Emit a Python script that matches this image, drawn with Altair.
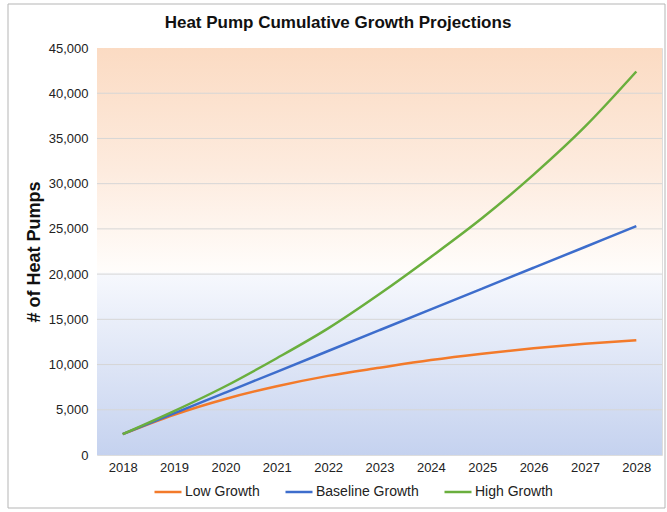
import altair as alt
import pandas as pd

years = list(range(2018, 2029))
low = [2300, 4450, 6200, 7600, 8750, 9650, 10500, 11200, 11800, 12300, 12700]
baseline = [2300, 4600, 6900, 9200, 11500, 13800, 16100, 18400, 20700, 23000, 25300]
high = [2300, 4850, 7600, 10700, 14000, 17800, 21900, 26200, 31000, 36300, 42400]
series = ["Low Growth", "Baseline Growth", "High Growth"]
colors = ["#F37A2A", "#3D6DCC", "#6AAF3D"]
y_ticks = list(range(0, 45001, 5000))
grid_vals = list(range(5000, 40001, 5000))
title_text = "Heat Pump Cumulative Growth Projections"

rows = []
for name, vals in zip(series, [low, baseline, high]):
    for yr, v in zip(years, vals):
        rows.append({"Year": yr, "Pumps": v, "Series": name})
df = pd.DataFrame(rows)

FONT = "Liberation Sans"
x_scale = alt.Scale(domain=[2017.5, 2028.5], nice=False, zero=False)
y_scale = alt.Scale(domain=[0, 45000], nice=False)
x_axis = alt.Axis(
    values=years, format="d", title=None, grid=False, ticks=False,
    domain=False, labelFontSize=13, labelPadding=6, labelColor="#222",
    labelFlush=False, labelFont=FONT,
)
y_axis = alt.Axis(
    values=y_ticks, format=",.0f", grid=False, ticks=False, domain=False,
    title="# of Heat Pumps", titleFontSize=18, titleFontWeight="bold",
    titleColor="#111", titlePadding=5, labelFontSize=13, labelPadding=9,
    labelColor="#222", labelFlush=False, labelFont=FONT, titleFont=FONT,
)

bg_df = pd.DataFrame({"x0": [2017.5], "x1": [2028.5], "y0": [0], "y1": [45000]})
bg = alt.Chart(bg_df).mark_rect(
    color=alt.LinearGradient(
        gradient="linear",
        stops=[
            alt.GradientStop(offset=0, color="#fbdbc3"),
            alt.GradientStop(offset=0.3, color="#fdebde"),
            alt.GradientStop(offset=0.55, color="#fffdfb"),
            alt.GradientStop(offset=0.556, color="#f6f8fd"),
            alt.GradientStop(offset=1, color="#c5d2ef"),
        ],
        x1=0, x2=0, y1=0, y2=1,
    )
).encode(
    x=alt.X("x0:Q", scale=x_scale, axis=x_axis),
    x2="x1:Q",
    y=alt.Y("y1:Q", scale=y_scale, axis=y_axis),
    y2="y0:Q",
)

grid = alt.Chart(pd.DataFrame({"v": grid_vals})).mark_rule(
    color="#d6d6d6", strokeWidth=1
).encode(y=alt.Y("v:Q", scale=y_scale, axis=y_axis))

lines = alt.Chart(df).mark_line(strokeWidth=2.5, interpolate="monotone").encode(
    x=alt.X("Year:Q", scale=x_scale, axis=x_axis),
    y=alt.Y("Pumps:Q", scale=y_scale, axis=y_axis),
    color=alt.Color(
        "Series:N",
        scale=alt.Scale(domain=series, range=colors),
        sort=series,
        legend=alt.Legend(
            title=None, orient="none", direction="horizontal",
            legendX=56, legendY=429, symbolType="stroke", symbolSize=729,
            symbolStrokeWidth=2.5, labelFontSize=14, labelOffset=2,
            columnPadding=20, labelColor="#222", labelFont=FONT,
        ),
    ),
)

title = alt.Chart(alt.Data(values=[{"t": title_text}])).mark_text(
    fontSize=17, fontWeight="bold", font=FONT, color="#111", clip=False,
    align="center", baseline="middle",
).encode(text="t:N", x=alt.value(241), y=alt.value(-25))

frame = alt.Chart(alt.Data(values=[{}])).mark_rect(
    fillOpacity=0, stroke="#b5b5b5", strokeWidth=1, clip=False
).encode(
    x=alt.value(-89), x2=alt.value(568), y=alt.value(-44), y2=alt.value(460)
)

chart = alt.layer(bg, grid, lines, title, frame).properties(
    width=565,
    height=407,
    autosize=alt.AutoSizeParams(type="none"),
    padding={"left": 97, "top": 48, "right": 5, "bottom": 57},
).configure_view(stroke=None).configure(background="white")

chart.save("out.html", embed_options={"renderer": "svg", "actions": False})
